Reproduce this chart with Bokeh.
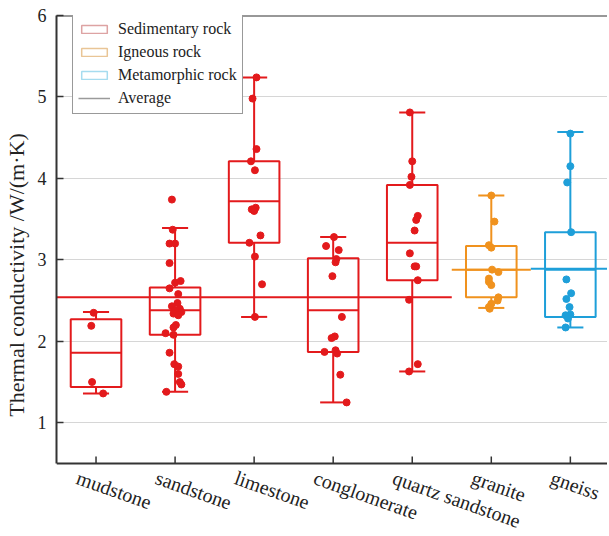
import math
from bokeh.plotting import figure
from bokeh.models import FixedTicker, Legend, LegendItem, Span, Range1d
from bokeh.core.properties import value
from bokeh.embed import file_html
from bokeh.resources import INLINE

# ---------------- data ----------------
categories = ["mudstone", "sandstone", "limestone", "conglomerate",
              "quartz sandstone", "granite", "gneiss"]
rock_type = ["Sedimentary rock"] * 5 + ["Igneous rock", "Metamorphic rock"]

q1 = [1.44, 2.08, 3.21, 1.87, 2.75, 2.54, 2.30]
median = [1.86, 2.38, 3.72, 2.38, 3.21, 2.88, 2.88]
q3 = [2.27, 2.66, 4.21, 3.02, 3.92, 3.17, 3.34]
whisker_low = [1.36, 1.38, 2.30, 1.25, 1.63, 2.41, 2.17]
whisker_high = [2.36, 3.39, 5.24, 3.28, 4.81, 3.79, 4.57]

mudstone_pts = [2.35, 2.19, 1.50, 1.36]
mudstone_off = [-0.03, -0.06, -0.05, 0.09]
sandstone_pts = [3.74, 3.37, 3.20, 3.20, 2.96, 2.74, 2.72, 2.65, 2.58, 2.47,
                 2.43, 2.40, 2.38, 2.36, 2.34, 2.32, 2.20, 2.17, 2.10, 2.08,
                 1.86, 1.72, 1.69, 1.60, 1.50, 1.47, 1.38]
sandstone_off = [-0.04, -0.03, -0.07, 0.0, -0.07, 0.07, 0.0, -0.07, 0.04, 0.03,
                 -0.04, 0.06, 0.0, 0.08, -0.02, 0.04, 0.01, -0.02, -0.12, -0.02,
                 -0.07, -0.01, 0.04, 0.04, 0.06, 0.08, -0.11]
limestone_pts = [5.24, 4.98, 4.36, 4.21, 4.10, 3.64, 3.62, 3.60, 3.30, 3.21,
                 3.04, 2.70, 2.30]
limestone_off = [0.03, -0.02, 0.03, -0.04, 0.01, 0.02, -0.03, 0.0, 0.08, -0.06,
                 0.01, 0.10, 0.01]
conglomerate_pts = [3.28, 3.17, 3.12, 3.01, 2.97, 2.80, 2.30, 2.06, 2.04, 1.89,
                    1.87, 1.85, 1.59, 1.25]
conglomerate_off = [0.01, -0.09, 0.07, 0.04, 0.03, -0.01, 0.11, 0.02, -0.02, 0.03,
                    -0.11, 0.05, 0.09, 0.17]
quartz_pts = [4.81, 4.21, 4.02, 3.92, 3.54, 3.49, 3.36, 3.08, 2.92, 2.92,
              2.75, 2.51, 1.72, 1.63]
quartz_off = [-0.03, 0.0, -0.01, -0.03, 0.07, 0.05, 0.03, -0.03, 0.03, 0.05,
              0.07, -0.04, 0.07, -0.04]
granite_pts = [3.79, 3.47, 3.18, 3.15, 2.88, 2.85, 2.77, 2.73, 2.69, 2.54,
               2.50, 2.46, 2.42, 2.40]
granite_off = [0.0, 0.04, -0.03, 0.0, 0.01, 0.09, -0.03, -0.03, 0.0, 0.09,
               0.08, 0.0, -0.03, -0.02]
gneiss_pts = [4.55, 4.15, 3.95, 3.34, 2.76, 2.59, 2.52, 2.42, 2.33, 2.32,
              2.28, 2.17]
gneiss_off = [0.0, 0.0, -0.04, 0.01, -0.05, 0.01, -0.05, -0.01, 0.0, -0.06,
              -0.03, -0.06]

points = [mudstone_pts, sandstone_pts, limestone_pts, conglomerate_pts,
          quartz_pts, granite_pts, gneiss_pts]
offsets = [mudstone_off, sandstone_off, limestone_off, conglomerate_off,
           quartz_off, granite_off, gneiss_off]

group_names = ["Sedimentary rock", "Igneous rock", "Metamorphic rock"]
group_average = [2.54, 2.88, 2.89]
y_ticks = [1, 2, 3, 4, 5, 6]

# ---------------- styles ----------------
colors = {"Sedimentary rock": "#E31A1C", "Igneous rock": "#F0921E",
          "Metamorphic rock": "#1E9FD9"}
legend_colors = {"Sedimentary rock": "#DDA3A3", "Igneous rock": "#E9C596",
                 "Metamorphic rock": "#A6DCEF"}
AXIS_COLOR = "#333333"
TEXT_COLOR = "#222222"
SERIF = "Liberation Serif"
BOX_W = 0.64
CAP_W = 0.33
X_END = 6.47
Y_AXIS_START, Y_END = 0.5, 6.0
FIG_W, FIG_H = 607, 534
TOP = 15
AXIS_PX = 463           # pixel row (in figure) where the x axis sits
FRAME_H = FIG_H - TOP
PX_PER_UNIT = (AXIS_PX - TOP) / (Y_END - Y_AXIS_START)
Y_START = Y_AXIS_START - (FIG_H - AXIS_PX) / PX_PER_UNIT
LEGEND_H = 99

p = figure(width=FIG_W, height=FIG_H, output_backend="svg",
           toolbar_location=None,
           x_range=Range1d(-0.5, X_END), y_range=Range1d(Y_START, Y_END),
           min_border_left=0, min_border_right=0, min_border_top=TOP,
           min_border_bottom=0)
p.outline_line_color = None
p.background_fill_color = "white"
p.xaxis.visible = False

# average lines
for g, avg in zip(group_names, group_average):
    idx = [i for i, t in enumerate(rock_type) if t == g]
    x0 = min(idx) - 0.5
    x1 = min(max(idx) + 0.5, X_END)
    p.segment(x0=[x0], y0=[avg], x1=[x1], y1=[avg], line_color=colors[g],
              line_width=2)

# boxes, whiskers, medians, points
for i, cat in enumerate(categories):
    c = colors[rock_type[i]]
    p.segment(x0=[i, i], y0=[q3[i], q1[i]], x1=[i, i],
              y1=[whisker_high[i], whisker_low[i]], line_color=c, line_width=2)
    p.segment(x0=[i - CAP_W / 2, i - CAP_W / 2],
              y0=[whisker_high[i], whisker_low[i]],
              x1=[i + CAP_W / 2, i + CAP_W / 2],
              y1=[whisker_high[i], whisker_low[i]], line_color=c, line_width=2)
    p.quad(left=[i - BOX_W / 2], right=[i + BOX_W / 2], bottom=[q1[i]],
           top=[q3[i]], fill_color=None, line_color=c, line_width=2)
    p.segment(x0=[i - BOX_W / 2], y0=[median[i]], x1=[i + BOX_W / 2],
              y1=[median[i]], line_color=c, line_width=2)
    xs = [i + o for o in offsets[i]]
    p.scatter(x=xs, y=points[i], size=7, fill_color=c, line_color=c)

# frame lines: top border and bottom (category) axis with inward ticks
p.add_layout(Span(location=Y_END, dimension="width", line_color=AXIS_COLOR,
                  line_width=2))
p.add_layout(Span(location=Y_AXIS_START, dimension="width",
                  line_color=AXIS_COLOR, line_width=2))
cat_x = list(range(len(categories)))
p.ray(x=cat_x, y=[Y_AXIS_START] * len(cat_x), length=7, length_units="screen",
      angle=math.pi / 2, line_color=AXIS_COLOR, line_width=1.5)
p.text(x=cat_x, y=[Y_AXIS_START] * len(cat_x), text=categories, angle=-0.34,
       x_offset=-15, y_offset=3, text_align="left", text_baseline="top",
       text_font=value(SERIF), text_font_size="20px", text_color=TEXT_COLOR)

# legend
nan = float("nan")
items = []
for g in group_names:
    r = p.quad(left=[nan], right=[nan], bottom=[nan], top=[nan],
               fill_color="white", line_color=legend_colors[g], line_width=1.5)
    items.append(LegendItem(label=g, renderers=[r]))
r_avg = p.line(x=[nan], y=[nan], line_color="#9a9a9a", line_width=1.5)
items.append(LegendItem(label="Average", renderers=[r_avg]))
legend = Legend(items=items, location=(16, FRAME_H - LEGEND_H), glyph_width=32,
                glyph_height=10, label_height=20, spacing=3, padding=5,
                margin=0, label_standoff=8, border_line_color=AXIS_COLOR,
                border_line_width=1, background_fill_color="white",
                background_fill_alpha=1.0, label_text_font=SERIF,
                label_text_font_size="16px", label_text_color=TEXT_COLOR)
p.add_layout(legend)

# y axis
p.yaxis.ticker = FixedTicker(ticks=y_ticks)
p.yaxis.bounds = (Y_AXIS_START, Y_END)
p.yaxis.axis_line_color = AXIS_COLOR
p.yaxis.axis_line_width = 2
p.yaxis.major_tick_line_color = AXIS_COLOR
p.yaxis.major_tick_line_width = 1.5
p.yaxis.major_tick_in = 7
p.yaxis.major_tick_out = 0
p.yaxis.minor_tick_line_color = None
p.yaxis.major_label_text_font = SERIF
p.yaxis.major_label_text_color = TEXT_COLOR
p.yaxis.major_label_text_font_size = "18px"
p.yaxis.major_label_standoff = 10
p.yaxis.axis_label = "Thermal conductivity /W/(m\u00b7K)"
p.yaxis.axis_label_text_font = SERIF
p.yaxis.axis_label_text_font_size = "22px"
p.yaxis.axis_label_text_font_style = "normal"
p.yaxis.axis_label_text_color = TEXT_COLOR
p.yaxis.axis_label_standoff = 6

p.xgrid.grid_line_color = None
p.ygrid.grid_line_color = "#d6d6d6"
p.ygrid.grid_line_width = 1

open("out.html", "w").write(file_html(p, INLINE))
